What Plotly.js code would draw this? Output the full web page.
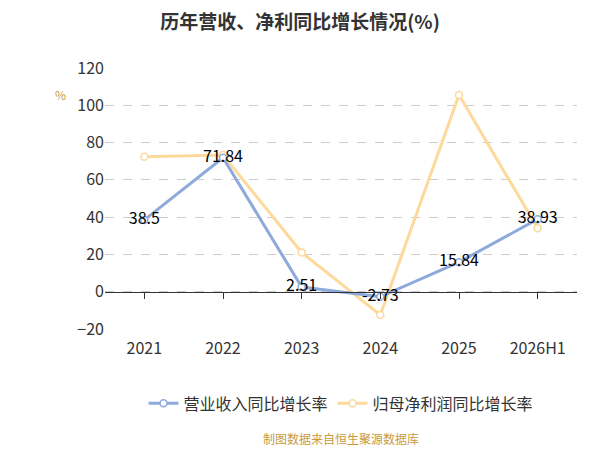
<!DOCTYPE html><html><head><meta charset="utf-8"><script src="https://cdn.plot.ly/plotly-3.0.1.min.js"></script></head><body style="margin:0"><div id="c" style="width:600px;height:450px"></div><script>
const years=['2021','2022','2023','2024','2025','2026H1'];
const revenue=[38.5,71.84,2.51,-2.73,15.84,38.93];
const profit=[72.4,73.3,21,-12.5,105.5,34];
const revLabels=['38.5','71.84','2.51','-2.73','15.84','38.93'];
const font='"Noto Sans CJK SC", "Noto Sans", sans-serif';
Plotly.newPlot('c',[
{x:years,y:profit,name:'归母净利润同比增长率',mode:'lines+markers',line:{color:'#fdd99b',width:3},marker:{size:7,color:'#fff',line:{color:'#fdd99b',width:1.5}}},
{x:years,y:revenue,name:'营业收入同比增长率',mode:'lines+markers+text',text:revLabels,textposition:'middle center',textfont:{size:16,color:'#000'},line:{color:'#8eaadb',width:3},marker:{size:7,color:'#fff',line:{color:'#8eaadb',width:1.5}}},
{x:years,y:revenue,xaxis:'x2',mode:'none',showlegend:false,hoverinfo:'skip'}
],{
width:600,height:450,margin:{l:105,r:23,t:68,b:121},
font:{family:font,size:16,color:'#333'},
title:{text:'<b>历年营收、净利同比增长情况(%)</b>',x:0.5,y:0.965,font:{size:19,color:'#333'}},
xaxis:{type:'category',showline:false,ticks:'',showgrid:false,zeroline:false,tickfont:{size:16},range:[-0.5,5.5],ticklabelstandoff:8},
xaxis2:{type:'category',matches:'x',overlaying:'x',anchor:'free',position:0.1429,side:'bottom',showline:true,linecolor:'#333',ticks:'outside',tickcolor:'#333',ticklen:6,showticklabels:false,showgrid:false,zeroline:false},
yaxis:{range:[-20,120],dtick:20,showgrid:true,gridcolor:'#ccc',griddash:'dash',zeroline:false,tickfont:{size:16}},
showlegend:true,legend:{orientation:'h',traceorder:'reversed',x:0.5,xanchor:'center',y:-0.22,font:{size:16}},
annotations:[{text:'%',xref:'paper',yref:'paper',x:-0.11,y:0.94,showarrow:false,font:{size:12,color:'#c89a3c'}},
{text:'制图数据来自恒生聚源数据库',xref:'paper',yref:'paper',x:0.5,y:-0.46,showarrow:false,font:{size:12,color:'#c89a3c'}}]
},{displayModeBar:false});
</script></body></html>
